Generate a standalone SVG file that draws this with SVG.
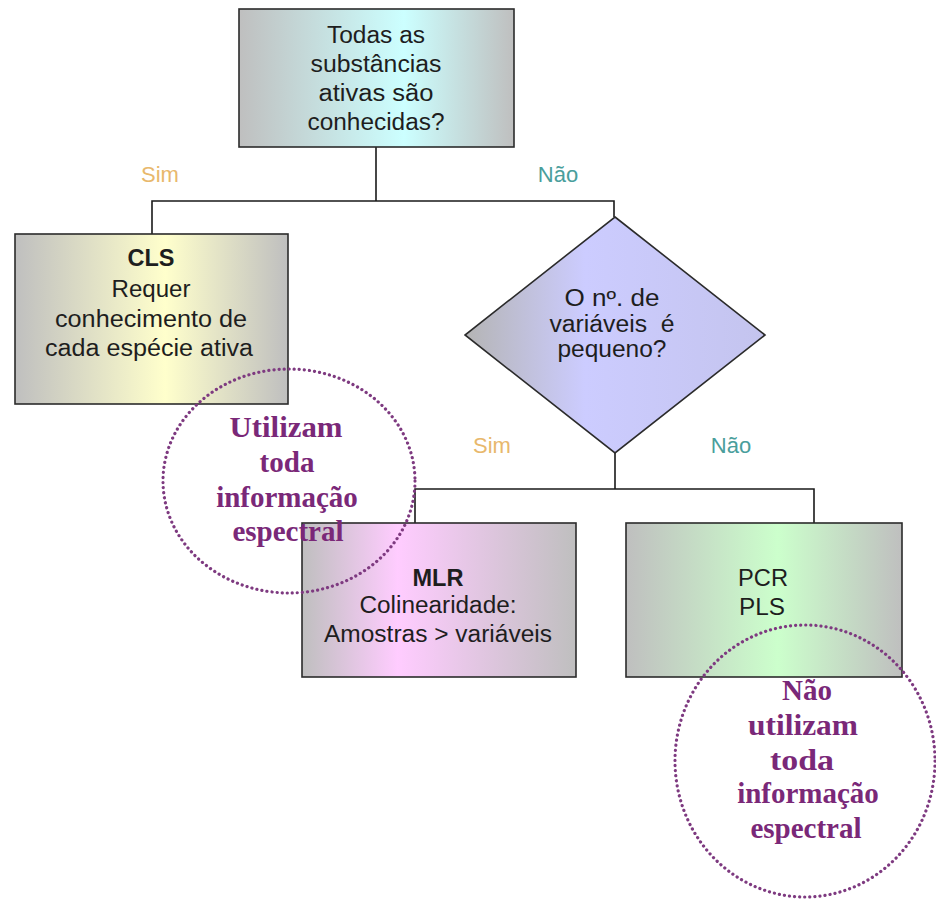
<svg xmlns="http://www.w3.org/2000/svg" width="936" height="901" viewBox="0 0 936 901">
<defs>
<linearGradient id="gCyan" x1="0" y1="0" x2="1" y2="0">
<stop offset="0" stop-color="#bfbfbf"/><stop offset="0.6" stop-color="#ccffff"/><stop offset="1" stop-color="#bfbfbf"/>
</linearGradient>
<linearGradient id="gYel" x1="0" y1="0" x2="1" y2="0">
<stop offset="0" stop-color="#bfbfbf"/><stop offset="0.55" stop-color="#ffffcc"/><stop offset="1" stop-color="#bfbfbf"/>
</linearGradient>
<linearGradient id="gLav" x1="0" y1="0" x2="1" y2="0">
<stop offset="0" stop-color="#b4b4b4"/><stop offset="0.4" stop-color="#ccccff"/><stop offset="1" stop-color="#c4c4ee"/>
</linearGradient>
<linearGradient id="gPink" x1="0" y1="0" x2="1" y2="0">
<stop offset="0" stop-color="#bfbfbf"/><stop offset="0.35" stop-color="#ffccff"/><stop offset="1" stop-color="#bfbfbf"/>
</linearGradient>
<linearGradient id="gGreen" x1="0" y1="0" x2="1" y2="0">
<stop offset="0" stop-color="#bfbfbf"/><stop offset="0.55" stop-color="#ccffcc"/><stop offset="1" stop-color="#bfbfbf"/>
</linearGradient>
</defs>
<style>
.box{stroke:#2b2b2b;stroke-width:1.6}
.t{font-family:"Liberation Sans",Arial,sans-serif;font-size:23px;fill:#1e1e1e;text-anchor:middle}
.b{font-weight:bold}
.lbl{font-family:"Liberation Sans",Arial,sans-serif;font-size:22px;text-anchor:middle}
.sim{fill:#e8b86c}
.nao{fill:#4a9e9c}
.ring{fill:none;stroke:#7e3a80;stroke-width:3.2;stroke-dasharray:0.1 5;stroke-linecap:round}
.ct{font-family:"Liberation Serif","Times New Roman",serif;font-weight:bold;font-size:29px;fill:#7a2878;text-anchor:middle}
.conn{stroke:#1a1a1a;stroke-width:1.6;fill:none}
</style>
<rect width="936" height="901" fill="#ffffff"/>

<g id="connectors">
<path class="conn" d="M376,147 V201 M152,234 V201 H614 V217"/>
<path class="conn" d="M615,453 V489 M415,523 V489 H814 V523"/>
</g>

<g id="labels">
<text class="lbl sim" x="160" y="182">Sim</text>
<text class="lbl nao" x="558" y="182">Não</text>
<text class="lbl sim" x="492" y="453">Sim</text>
<text class="lbl nao" x="731" y="453">Não</text>
</g>

<g id="n-top">
<rect class="box" x="239" y="9" width="275" height="138" fill="url(#gCyan)"/>
<text class="t" x="376" y="43" textLength="98" lengthAdjust="spacingAndGlyphs">Todas as</text>
<text class="t" x="376" y="72" textLength="131" lengthAdjust="spacingAndGlyphs">substâncias</text>
<text class="t" x="376" y="101" textLength="115" lengthAdjust="spacingAndGlyphs">ativas são</text>
<text class="t" x="376" y="130" textLength="137" lengthAdjust="spacingAndGlyphs">conhecidas?</text>
</g>

<g id="n-cls">
<rect class="box" x="15" y="234" width="273" height="170" fill="url(#gYel)"/>
<text class="t b" x="151" y="266" textLength="47" lengthAdjust="spacingAndGlyphs">CLS</text>
<text class="t" x="151" y="297" textLength="79" lengthAdjust="spacingAndGlyphs">Requer</text>
<text class="t" x="151" y="327" textLength="192" lengthAdjust="spacingAndGlyphs">conhecimento de</text>
<text class="t" x="149" y="356" textLength="208" lengthAdjust="spacingAndGlyphs">cada espécie ativa</text>
</g>

<g id="n-diamond">
<polygon class="box" points="615,217 765,335 615,453 465,335" fill="url(#gLav)"/>
<text class="t" x="612" y="306" textLength="95" lengthAdjust="spacingAndGlyphs">O nº. de</text>
<text class="t" x="612" y="332" textLength="125" lengthAdjust="spacingAndGlyphs" xml:space="preserve">variáveis  é</text>
<text class="t" x="612" y="357" textLength="109" lengthAdjust="spacingAndGlyphs">pequeno?</text>
</g>

<g id="n-mlr">
<rect class="box" x="302" y="523" width="274" height="154" fill="url(#gPink)"/>
<text class="t b" x="438" y="586" textLength="51" lengthAdjust="spacingAndGlyphs">MLR</text>
<text class="t" x="438" y="613" textLength="157" lengthAdjust="spacingAndGlyphs">Colinearidade:</text>
<text class="t" x="438" y="642" textLength="228" lengthAdjust="spacingAndGlyphs">Amostras &gt; variáveis</text>
</g>

<g id="n-pcr">
<rect class="box" x="626" y="523" width="276" height="154" fill="url(#gGreen)"/>
<text class="t" x="763" y="586" textLength="50" lengthAdjust="spacingAndGlyphs">PCR</text>
<text class="t" x="762" y="615" textLength="46" lengthAdjust="spacingAndGlyphs">PLS</text>
</g>

<g id="n-circle-left">
<ellipse class="ring" cx="289" cy="481" rx="126" ry="112"/>
<text class="ct" x="286" y="437" textLength="113" lengthAdjust="spacingAndGlyphs">Utilizam</text>
<text class="ct" x="287" y="472">toda</text>
<text class="ct" x="287" y="507">informação</text>
<text class="ct" x="288" y="541">espectral</text>
</g>

<g id="n-circle-right">
<ellipse class="ring" cx="805" cy="761" rx="130" ry="136"/>
<text class="ct" x="807" y="700">Não</text>
<text class="ct" x="803" y="735" textLength="110" lengthAdjust="spacingAndGlyphs">utilizam</text>
<text class="ct" x="802" y="770" textLength="64" lengthAdjust="spacingAndGlyphs">toda</text>
<text class="ct" x="808" y="803">informação</text>
<text class="ct" x="806" y="838">espectral</text>
</g>
</svg>
